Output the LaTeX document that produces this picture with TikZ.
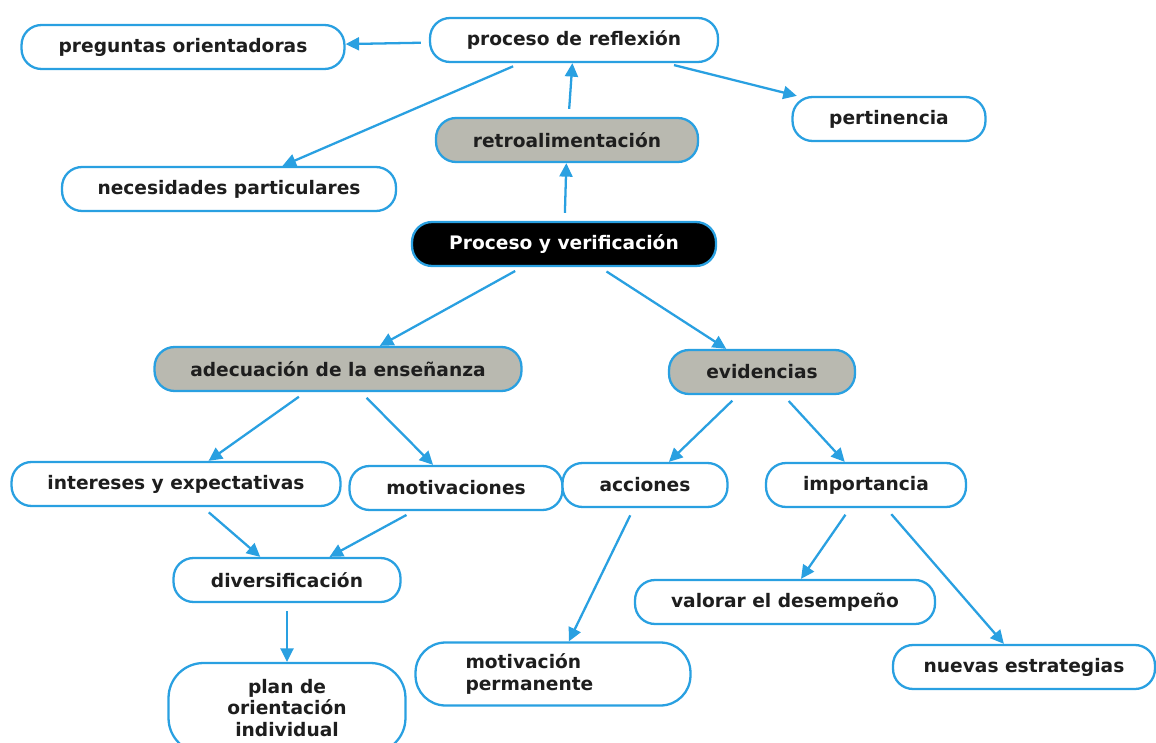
\documentclass[tikz,border=0pt]{standalone}
\usepackage{fontspec}
\setmainfont{DejaVu Sans}
\usetikzlibrary{positioning}
\usetikzlibrary{arrows.meta}
\definecolor{linkblue}{RGB}{41,160,225}
\definecolor{boxgray}{RGB}{185,185,176}
\definecolor{textdark}{RGB}{30,30,30}
\tikzset{
        mapnode/.style={align=center,inner sep=0pt,font=\fontsize{10.6}{12.4}\selectfont\bfseries,
            text=textdark, draw=linkblue, line width=1.3pt, rounded corners=0.4cm,
            minimum height=0.88cm},
        % Plain concepts
        node_white/.style={mapnode, fill=white},
        % Grey concepts
        node_gray/.style={mapnode, fill=boxgray},
        % Central concept
        node_root/.style={mapnode, fill=black, text=white},
        % Connectors
        link/.style={draw=linkblue, line width=1.3pt, -{Triangle[length=0.27cm,width=0.26cm]}, shorten <=0.16cm}
}
\begin{document}
\begin{tikzpicture}[x=0.02cm, y=-0.02cm]
    \clip (0,0) rectangle (1156,743);
    \fill[white] (0,0) rectangle (1156,743);

    % top part
    \node[node_white, minimum width=6.46cm] (pregunt) at (183,47) {preguntas orientadoras};
    \node[node_white, minimum width=5.76cm] (reflex) at (574,40) {proceso de reflexión};
    \node[node_white, minimum width=3.86cm] (pertin) at (889,119) {pertinencia};
    \node[node_gray, minimum width=5.24cm] (retro) at (567,140) {retroalimentación};
    \node[node_white, minimum width=6.68cm] (necesid) at (229,189) {necesidades particulares};
    \node[node_root, minimum width=6.08cm] (proceso) at (564,244) {Proceso y verificación};

    % left branch
    \node[node_gray, minimum width=7.34cm] (adecua) at (338,369) {adecuación de la enseñanza};
    \node[node_white, minimum width=6.58cm] (interes) at (176,484) {intereses y expectativas};
    \node[node_white, minimum width=4.26cm] (motivs) at (456,488) {motivaciones};
    \node[node_white, minimum width=4.54cm] (divers) at (287,580) {diversificación};
    \node[node_white, minimum width=4.74cm, minimum height=1.8cm, rounded corners=0.7cm] (plan) at (287,708)
        {plan de\\orientación\\individual};

    % right branch
    \node[node_gray, minimum width=3.72cm] (evid) at (762,372) {evidencias};
    \node[node_white, minimum width=3.3cm] (acciones) at (645,485) {acciones};
    \node[node_white, minimum width=4cm] (import) at (866,485) {importancia};
    \node[node_white, minimum width=6cm] (valorar) at (785,602) {valorar el desempeño};
    \node[node_white, minimum width=5.24cm] (nuevas) at (1024,667) {nuevas estrategias};
    \node[node_white, minimum width=5.5cm, minimum height=1.26cm, text width=3.5cm, align=left,
        rounded corners=0.6cm] (motperm) at (553,674) {motivación\\permanente};

    % connectors
    \draw[link] (reflex) -- (pregunt);
    \draw[link] (reflex) -- (necesid);
    \draw[link] (reflex) -- (pertin);
    \draw[link] (retro) -- (reflex);
    \draw[link] (proceso) -- (retro);
    \draw[link] (proceso) -- (adecua);
    \draw[link] (proceso) -- (evid);
    \draw[link] (adecua) -- (interes);
    \draw[link] (adecua) -- (motivs);
    \draw[link] (interes) -- (divers);
    \draw[link] (motivs) -- (divers);
    \draw[link] (divers) -- (plan);
    \draw[link] (evid) -- (acciones);
    \draw[link] (evid) -- (import);
    \draw[link] (acciones) -- (motperm);
    \draw[link] (import) -- (valorar);
    \draw[link] (import) -- (nuevas);
\end{tikzpicture}
\end{document}
